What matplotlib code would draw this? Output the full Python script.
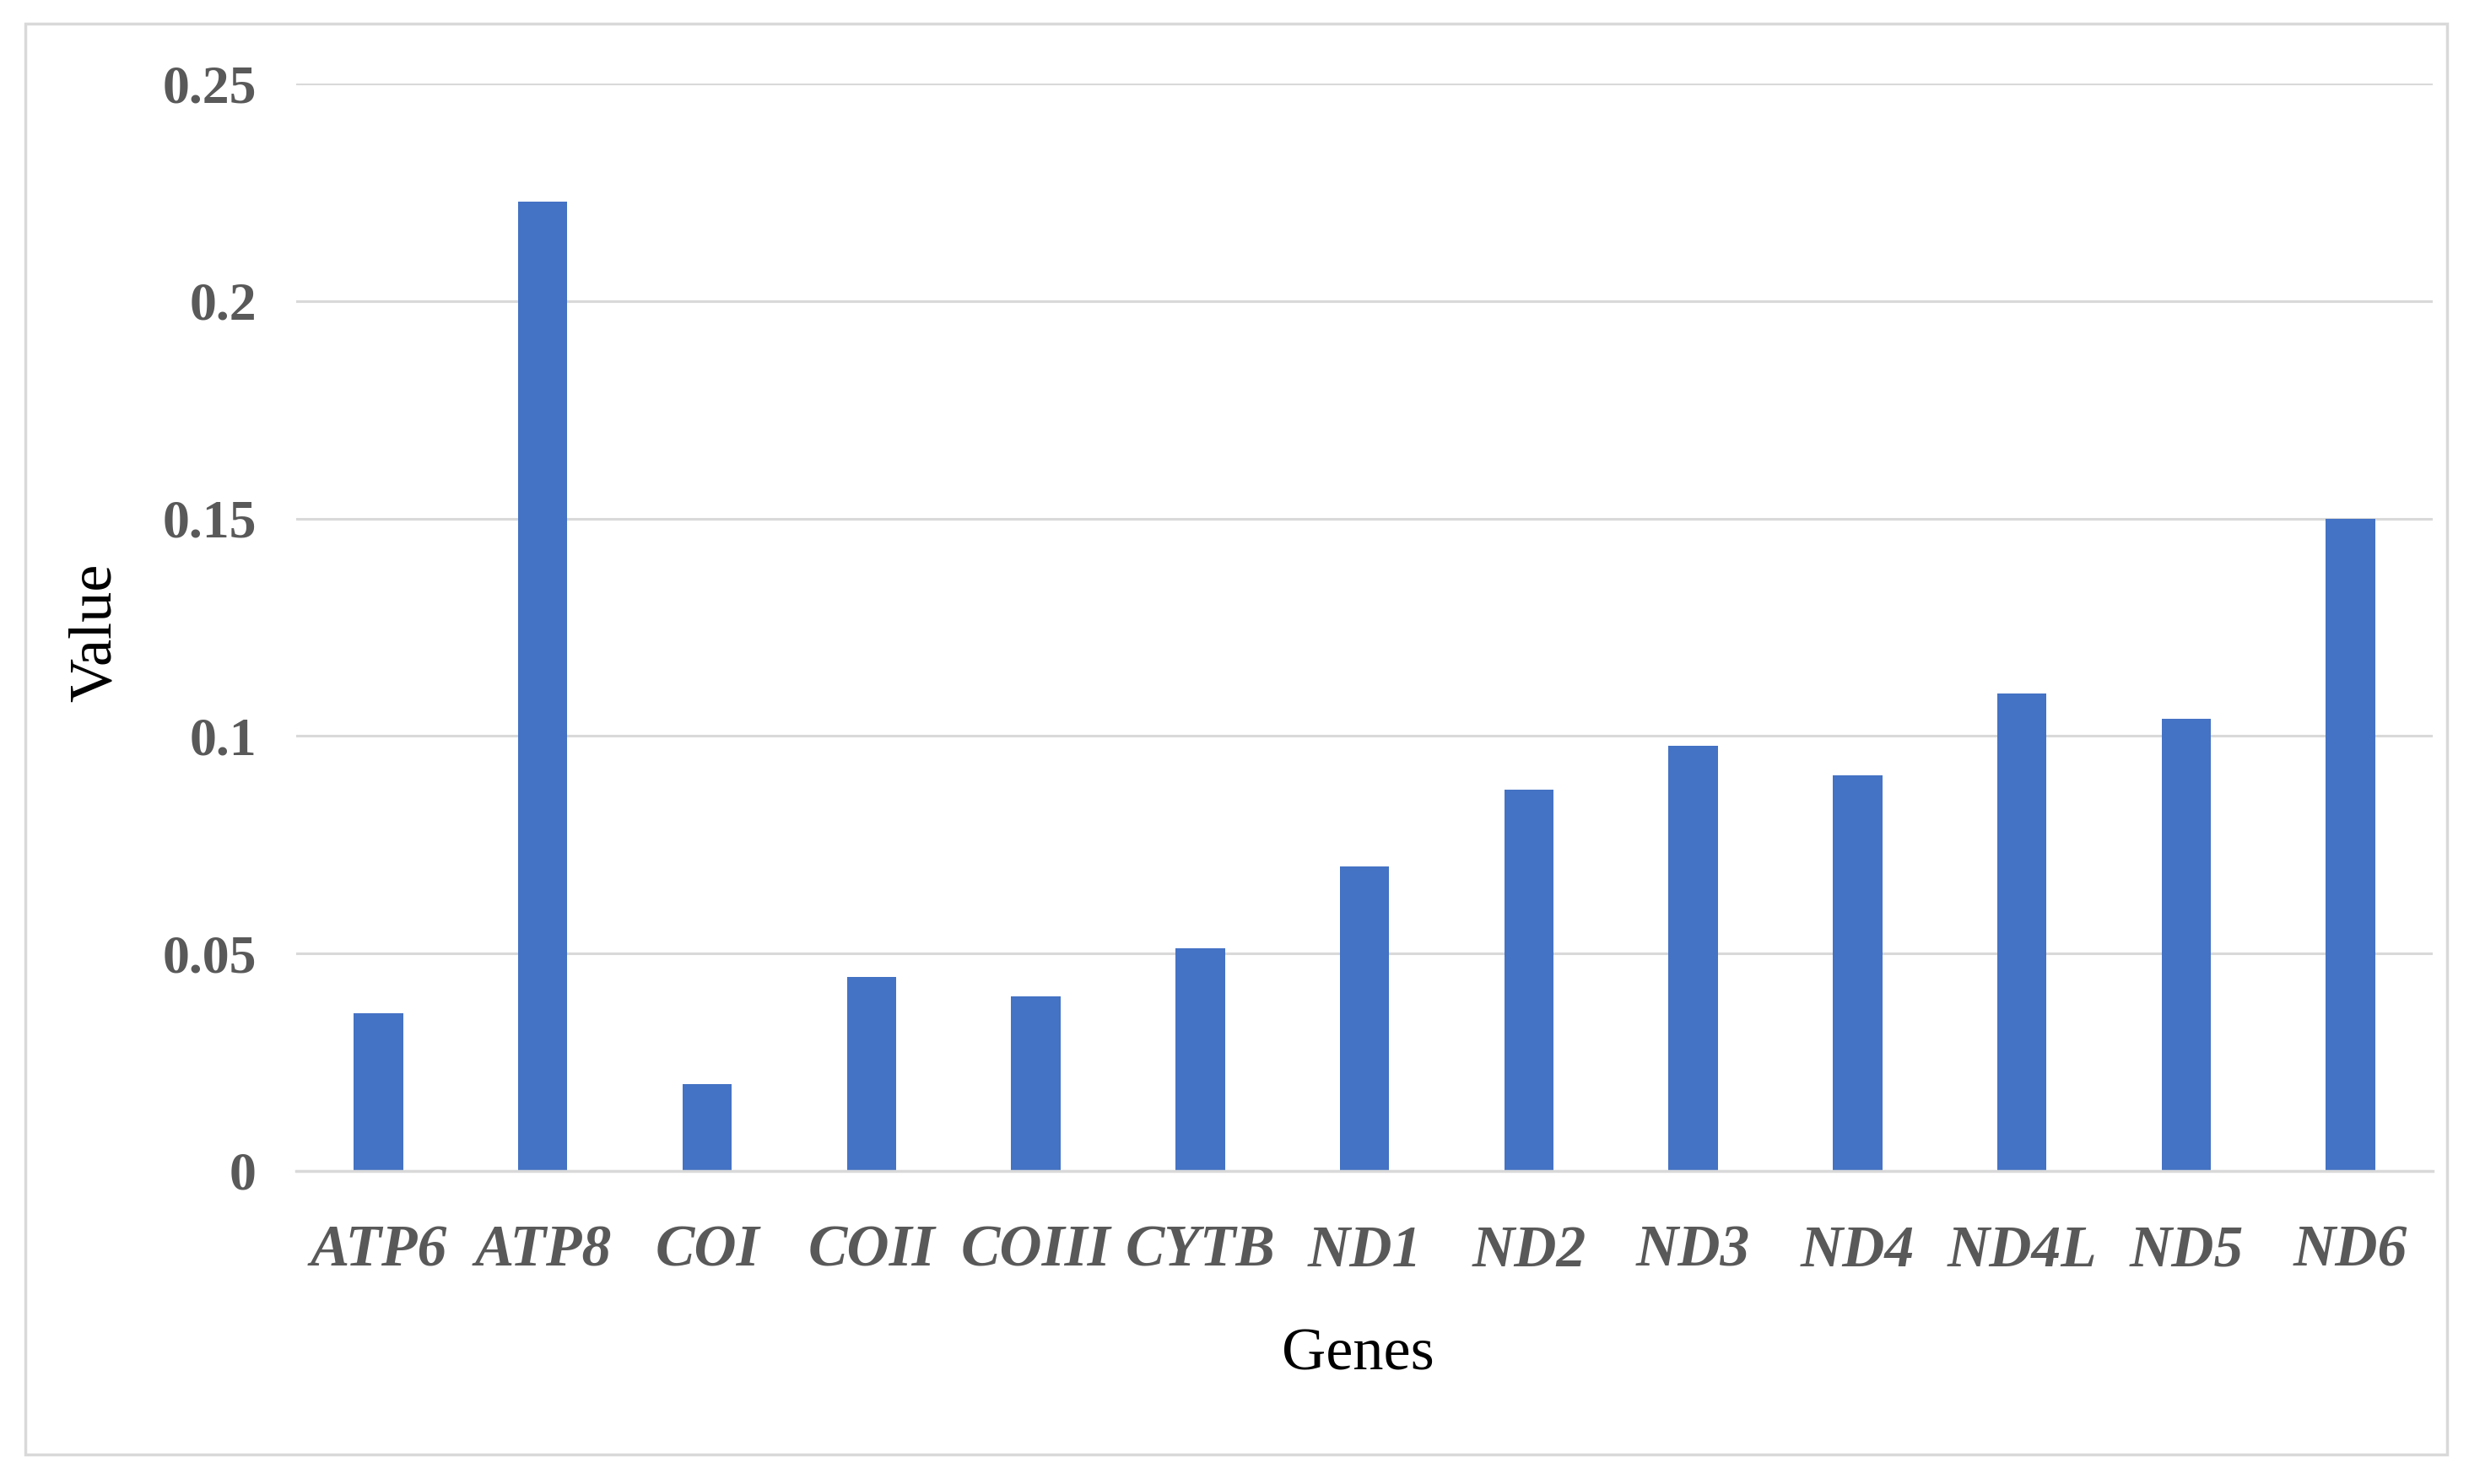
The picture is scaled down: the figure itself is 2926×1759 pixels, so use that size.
import matplotlib
matplotlib.use("Agg")
import matplotlib.pyplot as plt
from matplotlib.patches import Rectangle
import numpy as np

# values
genes = ["ATP6", "ATP8", "COI", "COII", "COIII", "CYTB", "ND1",
         "ND2", "ND3", "ND4", "ND4L", "ND5", "ND6"]
values = [0.0362, 0.2228, 0.0199, 0.0446, 0.0402, 0.0511, 0.0699,
          0.0877, 0.0978, 0.0909, 0.1098, 0.1040, 0.1500]
yticks = [0, 0.05, 0.1, 0.15, 0.2, 0.25]
ytick_labels = ["0", "0.05", "0.1", "0.15", "0.2", "0.25"]

plt.rcParams['font.family'] = ['Liberation Serif', 'DejaVu Serif']

fig = plt.figure(figsize=(29.26, 17.59), dpi=100)
ax = fig.add_axes([0.120, 0.211, 0.8653, 0.7327])

# light grey outer frame like an Excel chart area
fig.patches.append(Rectangle((0.0102, 0.020), 0.9808, 0.964, transform=fig.transFigure,
                             fill=False, edgecolor="#d9d9d9", linewidth=2.5))

x = np.arange(len(genes))
ax.bar(x, values, width=0.30, color="#4472C4", zorder=3)

ax.set_xlim(-0.5, len(genes) - 0.5)
ax.set_ylim(0, 0.25)
ax.set_yticks(yticks)
ax.set_yticklabels(ytick_labels, fontsize=46, fontweight="bold", color="#595959")
ax.set_xticks(x)
ax.set_xticklabels(genes, fontsize=50, fontweight="bold", fontstyle="italic", color="#595959")
ax.tick_params(axis="y", length=0, pad=34)
ax.tick_params(axis="x", length=0, pad=46)

ax.grid(axis="y", color="#d9d9d9", linewidth=2.2, zorder=0)
for s in ["top", "right", "left"]:
    ax.spines[s].set_visible(False)
ax.spines["bottom"].set_color("#d9d9d9")
ax.spines["bottom"].set_linewidth(2.5)
ax.spines["bottom"].set_zorder(4)

fig.text(0.550, 0.087, "Genes", fontsize=52, ha="center", va="center", color="black")
fig.text(0.0386, 0.574, "Value", fontsize=52, ha="center", va="center", rotation=90, color="black")

fig.savefig("out.png", dpi=100, facecolor="white")
